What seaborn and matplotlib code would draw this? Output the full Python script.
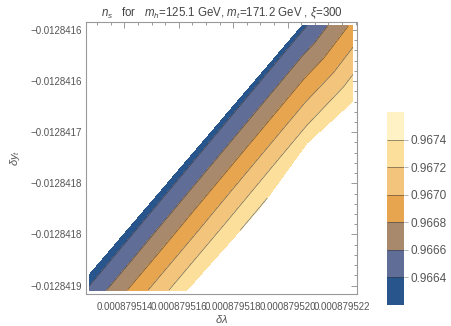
import matplotlib
matplotlib.use("Agg")
import matplotlib.pyplot as plt
import matplotlib.tri as mtri
import numpy as np
import seaborn as sns

dlam = [0.00087951270, 0.00087951270, 0.000879520526, 0.000879522401,
        0.000879522401, 0.000879520710, 0.000879518982, 0.000879516298]
dyt = [-0.0128418544, -0.0128418397, -0.0128415961, -0.0128415961,
       -0.0128416695, -0.0128417106, -0.0128417742, -0.0128418544]
ns = [0.966431, 0.966310, 0.966355, 0.966845,
      0.967395, 0.967344, 0.967410, 0.967373]
triangles = [[0, 7, 6], [0, 6, 1], [1, 6, 5], [1, 5, 2], [2, 5, 4], [2, 4, 3]]

levels = [0.9662, 0.9664, 0.9666, 0.9668, 0.9670, 0.9672, 0.9674, 0.9676]
line_levels = [0.9664, 0.9666, 0.9668, 0.9670, 0.9672, 0.9674]
band_colors = ["#28558c", "#606d96", "#a8896c", "#e8a54f",
               "#f3c47b", "#fcdf9b", "#fff3c6"]
cbar_labels = ["0.9664", "0.9666", "0.9668", "0.9670", "0.9672", "0.9674"]

xticks = [0.000879514, 0.000879516, 0.000879518, 0.000879520, 0.000879522]
xtick_labels = ["0.000879514", "0.000879516", "0.000879518", "0.000879520", "0.000879522"]
yticks = [-0.0128416, -0.01284165, -0.0128417, -0.01284175, -0.0128418, -0.01284185]
ytick_labels = ["\u22120.0128416", "\u22120.0128416", "\u22120.0128417",
                "\u22120.0128418", "\u22120.0128418", "\u22120.0128419"]

sns.set_theme(style="white")
plt.rcParams["font.family"] = ["Liberation Sans", "DejaVu Sans"]
plt.rcParams["mathtext.fontset"] = "custom"
plt.rcParams["mathtext.rm"] = "Liberation Sans"
plt.rcParams["mathtext.it"] = "Liberation Sans:italic"

fig = plt.figure(figsize=(4.52, 3.26), dpi=100)
ax = fig.add_axes([86 / 452, 1 - 293.5 / 326, 271 / 452, 271.5 / 326])
cax = fig.add_axes([387 / 452, 1 - 305 / 326, 17 / 452, 193 / 326])

tri = mtri.Triangulation(dlam, dyt, triangles)
cs = ax.tricontourf(tri, ns, levels=levels, colors=band_colors)
cl = ax.tricontour(tri, ns, levels=line_levels, colors="#333333",
                   linewidths=0.5, alpha=0.7)

ax.set_xticks(xticks)
ax.set_xticklabels(xtick_labels)
ax.set_xticks(np.linspace(0.000879513, 0.0008795225, 20), minor=True)
ax.set_yticks(yticks)
ax.set_yticklabels(ytick_labels)
ax.set_yticks(np.linspace(-0.0128416, -0.01284185, 26), minor=True)

# limits last: set_ticks may widen them
ax.set_xlim(0.00087951258456, 0.000879522548)
ax.set_ylim(-0.0128418578, -0.0128415922)

ax.tick_params(which="both", direction="in", top=True, right=True,
               color="#888888", width=0.6, labelsize=7, labelcolor="#555555", pad=3)
ax.tick_params(axis="x", which="both", pad=6)
ax.tick_params(which="major", length=4)
ax.tick_params(which="minor", length=2.5)
for s in ax.spines.values():
    s.set_color("#999999")
    s.set_linewidth(0.8)

ax.set_xlabel(r"$\delta\lambda$", fontsize=8, color="#555555", labelpad=1)
ax.set_ylabel(r"$\delta y_t$", fontsize=8, color="#555555", labelpad=6)
ax.set_title(r"$n_s$   for   $m_h$=125.1 GeV, $m_t$=171.2 GeV , $\xi$=300",
             fontsize=8.3, color="#444444", pad=4)

cbar = fig.colorbar(cs, cax=cax, ticks=line_levels)
cbar.add_lines(cl)
cbar.outline.set_visible(False)
cbar.ax.set_yticklabels(cbar_labels)
cbar.ax.tick_params(length=3, width=0.6, color="#aaaaaa", labelsize=8.5,
                    labelcolor="#555555", pad=2)

fig.savefig("out.png", dpi=100)
